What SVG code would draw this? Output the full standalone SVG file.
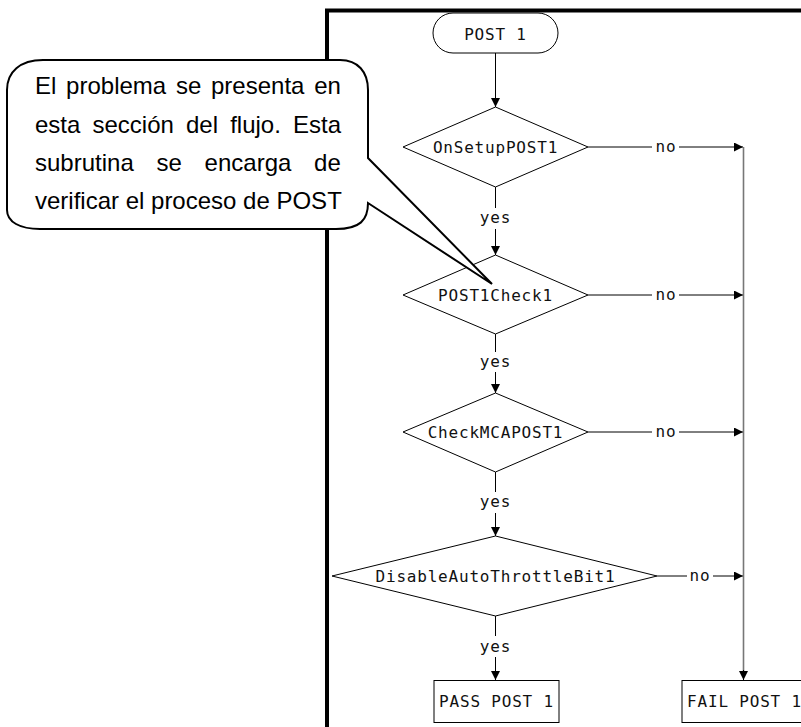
<svg xmlns="http://www.w3.org/2000/svg" width="801" height="727" viewBox="0 0 801 727">
  <style>
    .shape { fill: #ffffff; stroke: #000000; stroke-width: 1; }
    .edge { fill: none; stroke: #000000; stroke-width: 1; }
    .rail { fill: none; stroke: #777777; stroke-width: 1.6; }
    .lbl { font-family: "DejaVu Sans Mono", "Liberation Mono", monospace; font-size: 16px; letter-spacing: 0.8px; fill: #111111; text-anchor: middle; }
    .note { font-family: "Liberation Sans", Arial, sans-serif; font-size: 24px; fill: #000000; }
    .frame { fill: none; stroke: #000000; stroke-width: 4; }
    .bubble { fill: #ffffff; stroke: #000000; stroke-width: 2; stroke-linejoin: miter; }
  </style>
  <defs>
    <marker id="arrow" markerUnits="userSpaceOnUse" markerWidth="10" markerHeight="10" refX="9" refY="4.5" orient="auto">
      <path d="M0,0 L9,4.5 L0,9 Z" fill="#000000"/>
    </marker>
  </defs>

  <rect width="801" height="727" fill="#ffffff"/>

  <!-- thick page frame -->
  <path class="frame" d="M327,727 L327,10.5 L801,10.5"/>

  <!-- connectors -->
  <g id="connectors">
    <line class="edge" x1="495.5" y1="53" x2="495.5" y2="107" marker-end="url(#arrow)"/>

    <!-- yes branches -->
    <line class="edge" x1="495.5" y1="187" x2="495.5" y2="208"/>
    <text class="lbl" x="495.5" y="223">yes</text>
    <line class="edge" x1="495.5" y1="229" x2="495.5" y2="255" marker-end="url(#arrow)"/>

    <line class="edge" x1="495.5" y1="334" x2="495.5" y2="352"/>
    <text class="lbl" x="495.5" y="367">yes</text>
    <line class="edge" x1="495.5" y1="372" x2="495.5" y2="393" marker-end="url(#arrow)"/>

    <line class="edge" x1="495.5" y1="472" x2="495.5" y2="492"/>
    <text class="lbl" x="495.5" y="507">yes</text>
    <line class="edge" x1="495.5" y1="513" x2="495.5" y2="536" marker-end="url(#arrow)"/>

    <line class="edge" x1="495.5" y1="616" x2="495.5" y2="636"/>
    <text class="lbl" x="495.5" y="652">yes</text>
    <line class="edge" x1="495.5" y1="657" x2="495.5" y2="680" marker-end="url(#arrow)"/>

    <!-- no branches -->
    <line class="edge" x1="588" y1="147" x2="652" y2="147"/>
    <text class="lbl" x="666" y="152">no</text>
    <line class="edge" x1="679" y1="147" x2="743" y2="147" marker-end="url(#arrow)"/>

    <line class="edge" x1="588" y1="295" x2="652" y2="295"/>
    <text class="lbl" x="666" y="300">no</text>
    <line class="edge" x1="679" y1="295" x2="743" y2="295" marker-end="url(#arrow)"/>

    <line class="edge" x1="588" y1="432" x2="652" y2="432"/>
    <text class="lbl" x="666" y="437">no</text>
    <line class="edge" x1="679" y1="432" x2="743" y2="432" marker-end="url(#arrow)"/>

    <line class="edge" x1="657" y1="576" x2="687" y2="576"/>
    <text class="lbl" x="700" y="581">no</text>
    <line class="edge" x1="713" y1="576" x2="743" y2="576" marker-end="url(#arrow)"/>

    <!-- collecting rail to the failure box -->
    <line class="rail" x1="743.5" y1="147" x2="743.5" y2="672"/>
    <line class="edge" x1="743.5" y1="670" x2="743.5" y2="680" marker-end="url(#arrow)"/>
  </g>

  <!-- nodes -->
  <g id="start">
    <rect class="shape" x="433" y="13" width="125" height="40" rx="20" ry="20"/>
    <text class="lbl" x="495.5" y="40">POST 1</text>
  </g>

  <g id="onsetup">
    <polygon class="shape" points="495.5,107 588,147 495.5,187 403,147"/>
    <text class="lbl" x="495.5" y="153">OnSetupPOST1</text>
  </g>

  <g id="check1">
    <polygon class="shape" points="495.5,255 588,295 495.5,334 403,295"/>
    <text class="lbl" x="495.5" y="301">POST1Check1</text>
  </g>

  <g id="checkmca">
    <polygon class="shape" points="495.5,393 588,432 495.5,472 403,432"/>
    <text class="lbl" x="495.5" y="438">CheckMCAPOST1</text>
  </g>

  <g id="throttle">
    <polygon class="shape" points="495.5,536 657,576 495.5,616 332,576"/>
    <text class="lbl" x="495.5" y="582">DisableAutoThrottleBit1</text>
  </g>

  <g id="pass">
    <rect class="shape" x="434" y="680.5" width="125" height="42"/>
    <text class="lbl" x="496.5" y="707">PASS POST 1</text>
  </g>

  <g id="fail">
    <rect class="shape" x="682" y="680.5" width="125" height="42"/>
    <text class="lbl" x="744.5" y="707">FAIL POST 1</text>
  </g>

  <!-- speech bubble with its pointer -->
  <g id="note">
    <path class="bubble" d="M43,60 L340,60 C358,60 368,72 368,90 L368,158 L492,284 L368,203 C368,220 360,229 336,229 L40,229 C20,229 7,222 7,210 L7,90 C7,72 20,60 43,60 Z"/>
    <text class="note">
      <tspan x="35" y="94">El</tspan><tspan x="66.1" y="94">problema</tspan><tspan x="175.9" y="94">se</tspan><tspan x="211" y="94">presenta</tspan><tspan x="314.2" y="94">en</tspan>
    </text>
    <text class="note">
      <tspan x="35" y="133">esta</tspan><tspan x="92.5" y="133">sección</tspan><tspan x="186" y="133">del</tspan><tspan x="230.2" y="133">flujo.</tspan><tspan x="293" y="133">Esta</tspan>
    </text>
    <text class="note">
      <tspan x="35" y="171">subrutina</tspan><tspan x="156.5" y="171">se</tspan><tspan x="204.6" y="171">encarga</tspan><tspan x="314.1" y="171">de</tspan>
    </text>
    <text class="note" x="35" y="209">verificar el proceso de POST</text>
  </g>
</svg>
